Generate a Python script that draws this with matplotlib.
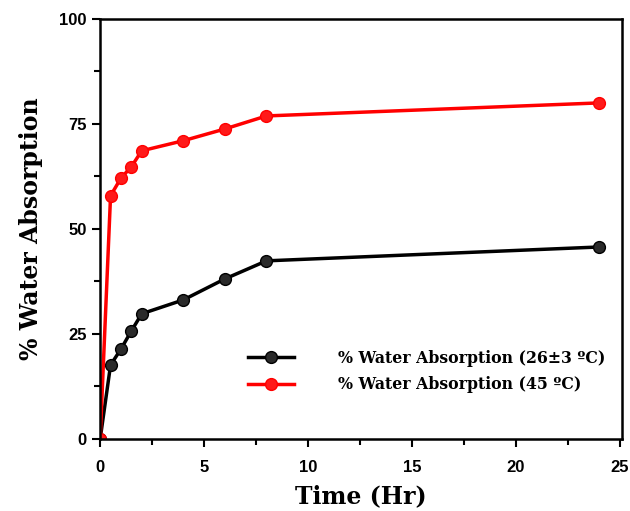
import numpy as np
import matplotlib.pyplot as plt
from matplotlib.ticker import MultipleLocator

# Data
time_hr = [0, 0.5, 1, 1.5, 2, 4, 6, 8, 24]
absorption_26 = [0, 17.6, 21.4, 25.7, 29.8, 33.1, 38.1, 42.4, 45.7]
absorption_45 = [0, 57.9, 62.1, 64.8, 68.6, 71.0, 73.8, 76.9, 80.0]

label_26 = '% Water Absorption (26±3 ºC)'
label_45 = '% Water Absorption (45 ºC)'

fig = plt.figure(figsize=(6.3, 5.11), dpi=100)
ax = fig.add_axes([0.159, 0.141, 0.828, 0.822])

ax.plot(time_hr, absorption_26, color='black', lw=2.5, marker='o', ms=8.5,
        mfc='#2a2a2a', mec='black', label=label_26)
ax.plot(time_hr, absorption_45, color='#ff0000', lw=2.5, marker='o', ms=8.5,
        mfc='#ff1a1a', mec='#ff0000', label=label_45)

ax.set_xlim(0, 25.1)
ax.set_ylim(0, 100)
ax.xaxis.set_major_locator(MultipleLocator(5))
ax.xaxis.set_minor_locator(MultipleLocator(2.5))
ax.yaxis.set_major_locator(MultipleLocator(25))
ax.yaxis.set_minor_locator(MultipleLocator(12.5))
ax.tick_params(which='both', direction='out', width=1.5, top=False, right=False)
ax.tick_params(which='major', length=6, labelsize=12)
ax.tick_params(axis='x', which='major', pad=9)
ax.tick_params(which='minor', length=4)
for lbl in ax.get_xticklabels() + ax.get_yticklabels():
    lbl.set_fontweight('bold')
    lbl.set_family('Liberation Sans')
for sp in ax.spines.values():
    sp.set_linewidth(1.8)

ax.set_xlabel('Time (Hr)', fontsize=17, fontweight='bold', family='DejaVu Serif', labelpad=7)
ax.set_ylabel('% Water Absorption', fontsize=17, fontweight='bold', family='DejaVu Serif', labelpad=12)

leg = ax.legend(loc='lower right', bbox_to_anchor=(0.995, 0.075), frameon=False,
                handlelength=2.9, handletextpad=2.8, labelspacing=0.6,
                prop={'family': 'DejaVu Serif', 'weight': 'bold', 'size': 11.3})

fig.savefig('out.png', dpi=100)
